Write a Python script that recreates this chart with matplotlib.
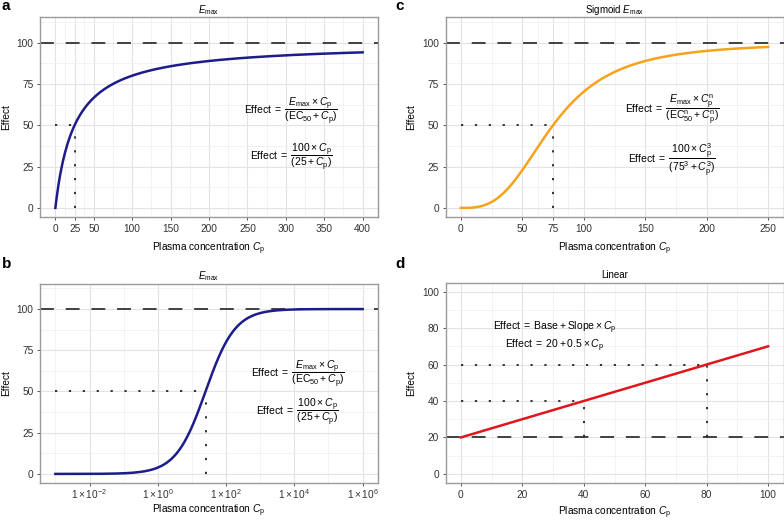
import numpy as np
import matplotlib
matplotlib.use("Agg")
import matplotlib.pyplot as plt
from matplotlib.ticker import FixedLocator, FixedFormatter

# model parameters as printed on the panels
emax = 100
ec50 = 25
sig_ec50 = 75
hill = 3
base = 20
slope = 0.5

# x ranges of each panel
emax_lin_range = [0, 400]
emax_log_range = [1e-3, 1e6]
sig_range = [0, 250]
lin_range = [0, 100]

# reference (dotted) points
emax_ref = (25, 50)
sig_ref = (75, 50)
lin_ref_x = [40, 80]
lin_ref_y = [40, 60]

# ticks
a_xticks = [0, 25, 50, 100, 150, 200, 250, 300, 350, 400]
a_xminor = [12.5, 37.5, 75, 125, 175, 225, 275, 325, 375]
c_xticks = [0, 50, 75, 100, 150, 200, 250]
c_xminor = [25, 62.5, 87.5, 125, 175, 225]
b_xticks = [1e-2, 1e0, 1e2, 1e4, 1e6]
b_xlabels = [r"$1\times10^{-2}$", r"$1\times10^{0}$", r"$1\times10^{2}$",
             r"$1\times10^{4}$", r"$1\times10^{6}$"]
b_xminor = [1e-3, 1e-1, 1e1, 1e3, 1e5]
emax_yticks = [0, 25, 50, 75, 100]
emax_yminor = [12.5, 37.5, 62.5, 87.5, 112.5]
lin_ticks = [0, 20, 40, 60, 80, 100]
lin_minor = [10, 30, 50, 70, 90]

navy = "#1c1c8a"
orange = "#f7a21b"
red = "#e0161b"

plt.rcParams["font.family"] = ["Liberation Sans", "DejaVu Sans"]
plt.rcParams["mathtext.fontset"] = "custom"
plt.rcParams["mathtext.rm"] = "Liberation Sans"
plt.rcParams["mathtext.it"] = "Liberation Sans:italic"
plt.rcParams["mathtext.bf"] = "Liberation Sans:bold"
plt.rcParams["lines.scale_dashes"] = False

FS = 7.3      # ticks / axis labels
EQ = 7.5      # equations
TS = 7.0      # titles
LONGDASH = (10, 8.5)
DOTTED = (1.6, 8.4)

fig = plt.figure(figsize=(7.84, 5.22), dpi=100)

ax_a = fig.add_axes([40 / 784, 1 - 217 / 522, 338 / 784, 200 / 522])
ax_c = fig.add_axes([445.5 / 784, 1 - 217 / 522, 338 / 784, 200 / 522])
ax_b = fig.add_axes([40 / 784, 1 - 483 / 522, 338 / 784, 199.5 / 522])
ax_d = fig.add_axes([445.5 / 784, 1 - 483 / 522, 338 / 784, 200.5 / 522])


def style(ax, xmaj, xmin, ymaj, ymin, xpad=5):
    ax.xaxis.set_major_locator(FixedLocator(xmaj))
    ax.xaxis.set_minor_locator(FixedLocator(xmin))
    ax.yaxis.set_major_locator(FixedLocator(ymaj))
    ax.yaxis.set_minor_locator(FixedLocator(ymin))
    ax.grid(True, which="major", color="#e3e3e3", lw=0.8, zorder=0)
    ax.grid(True, which="minor", color="#f1f1f1", lw=0.6, zorder=0)
    ax.set_axisbelow(True)
    ax.tick_params(which="major", length=2.2, width=0.7, color="#555555",
                   labelsize=FS, labelcolor="#333333", pad=2.5)
    ax.tick_params(which="minor", length=0)
    for s in ax.spines.values():
        s.set_color("#9a9a9a")
        s.set_linewidth(1.0)
    ax.set_ylabel("Effect", fontsize=FS, labelpad=4)
    ax.set_xlabel(r"Plasma concentration $C_\mathrm{p}$", fontsize=FS, labelpad=xpad)


emax_frac = (r"$\mathrm{Effect}\;=\;\dfrac{E_\mathrm{max}\times C_\mathrm{p}}"
             r"{(\mathrm{EC}_{50} + C_\mathrm{p})}$")
emax_num = r"$\mathrm{Effect}\;=\;\dfrac{100\times C_\mathrm{p}}{(25 + C_\mathrm{p})}$"
sig_frac = (r"$\mathrm{Effect}\;=\;\dfrac{E_\mathrm{max}\times C_\mathrm{p}^{\mathrm{n}}}"
            r"{(\mathrm{EC}_{50}^{\mathrm{n}} + C_\mathrm{p}^{\mathrm{n}})}$")
sig_num = (r"$\mathrm{Effect}\;=\;\dfrac{100\times C_\mathrm{p}^{3}}"
           r"{(75^{3} + C_\mathrm{p}^{3})}$")

# ---- panel a: Emax, linear x
x = np.linspace(emax_lin_range[0], emax_lin_range[1], 600)
ax_a.plot(x, emax * x / (ec50 + x), color=navy, lw=1.8, zorder=3)
ax_a.axhline(emax, color="#333333", lw=1.3, dashes=LONGDASH, zorder=2)
ax_a.plot([0, emax_ref[0]], [emax_ref[1]] * 2, color="#222222", lw=1.3, dashes=DOTTED)
ax_a.plot([emax_ref[0]] * 2, [0, emax_ref[1]], color="#222222", lw=1.3, dashes=DOTTED)
ax_a.set_xlim(-20, 420)
ax_a.set_ylim(-5.5, 115.5)
style(ax_a, a_xticks, a_xminor, emax_yticks, emax_yminor)
ax_a.set_title(r"$E_\mathrm{max}$", fontsize=TS, pad=3)
ax_a.text(307, 59, emax_frac, fontsize=EQ, ha="center", va="center")
ax_a.text(307, 31, emax_num, fontsize=EQ, ha="center", va="center")

# ---- panel b: Emax, log x
xl = np.logspace(np.log10(emax_log_range[0]), np.log10(emax_log_range[1]), 600)
ax_b.plot(xl, emax * xl / (ec50 + xl), color=navy, lw=1.8, zorder=3)
ax_b.axhline(emax, color="#333333", lw=1.3, dashes=LONGDASH, zorder=2)
ax_b.plot([emax_log_range[0], emax_ref[0]], [emax_ref[1]] * 2, color="#222222",
          lw=1.3, dashes=DOTTED)
ax_b.plot([emax_ref[0]] * 2, [0, emax_ref[1]], color="#222222", lw=1.3, dashes=DOTTED)
ax_b.set_xscale("log")
ax_b.set_xlim(10 ** -3.45, 10 ** 6.45)
ax_b.set_ylim(-5.5, 115.5)
style(ax_b, b_xticks, b_xminor, emax_yticks, emax_yminor, xpad=1)
ax_b.tick_params(axis="x", which="major", pad=1)
ax_b.xaxis.set_major_formatter(FixedFormatter(b_xlabels))
ax_b.xaxis.set_minor_formatter(FixedFormatter([""] * len(b_xminor)))
ax_b.set_title(r"$E_\mathrm{max}$", fontsize=TS, pad=3)
ax_b.text(10 ** 4.1, 61, emax_frac, fontsize=EQ, ha="center", va="center")
ax_b.text(10 ** 4.1, 38, emax_num, fontsize=EQ, ha="center", va="center")

# ---- panel c: sigmoid Emax
xs = np.linspace(sig_range[0], sig_range[1], 600)
ax_c.plot(xs, emax * xs ** hill / (sig_ec50 ** hill + xs ** hill), color=orange,
          lw=1.8, zorder=3)
ax_c.axhline(emax, color="#333333", lw=1.3, dashes=LONGDASH, zorder=2)
ax_c.plot([0, sig_ref[0]], [sig_ref[1]] * 2, color="#222222", lw=1.3, dashes=DOTTED)
ax_c.plot([sig_ref[0]] * 2, [0, sig_ref[1]], color="#222222", lw=1.3, dashes=DOTTED)
ax_c.set_xlim(-12.5, 262.5)
ax_c.set_ylim(-5.5, 115.5)
style(ax_c, c_xticks, c_xminor, emax_yticks, emax_yminor)
ax_c.set_title(r"Sigmoid $E_\mathrm{max}$", fontsize=TS, pad=3)
ax_c.text(172, 59, sig_frac, fontsize=EQ, ha="center", va="center")
ax_c.text(172, 29, sig_num, fontsize=EQ, ha="center", va="center")

# ---- panel d: linear
xd = np.array(lin_range)
ax_d.plot(xd, base + slope * xd, color=red, lw=1.8, zorder=3)
ax_d.axhline(base, color="#333333", lw=1.3, dashes=LONGDASH, zorder=2)
for rx, ry in zip(lin_ref_x, lin_ref_y):
    ax_d.plot([0, rx], [ry, ry], color="#222222", lw=1.3, dashes=DOTTED)
    ax_d.plot([rx, rx], [base, ry], color="#222222", lw=1.3, dashes=DOTTED)
ax_d.set_xlim(-5, 105)
ax_d.set_ylim(-5, 105)
style(ax_d, lin_ticks, lin_minor, lin_ticks, lin_minor, xpad=4)
ax_d.set_title("Linear", fontsize=TS, pad=3)
ax_d.text(30.5, 80, r"$\mathrm{Effect}\;=\;\mathrm{Base} + \mathrm{Slope}\times C_\mathrm{p}$",
          fontsize=EQ, ha="center", va="center")
ax_d.text(30.5, 70.5, r"$\mathrm{Effect}\;=\;20 + 0.5\times C_\mathrm{p}$",
          fontsize=EQ, ha="center", va="center")

# panel letters
for lab, px, py in [("a", 2, -1), ("c", 395, -1), ("b", 2, 257), ("d", 395, 257)]:
    fig.text(px / 784, 1 - py / 522, lab, fontsize=11, fontweight="bold",
             ha="left", va="top")

fig.savefig("out.png", dpi=100)
